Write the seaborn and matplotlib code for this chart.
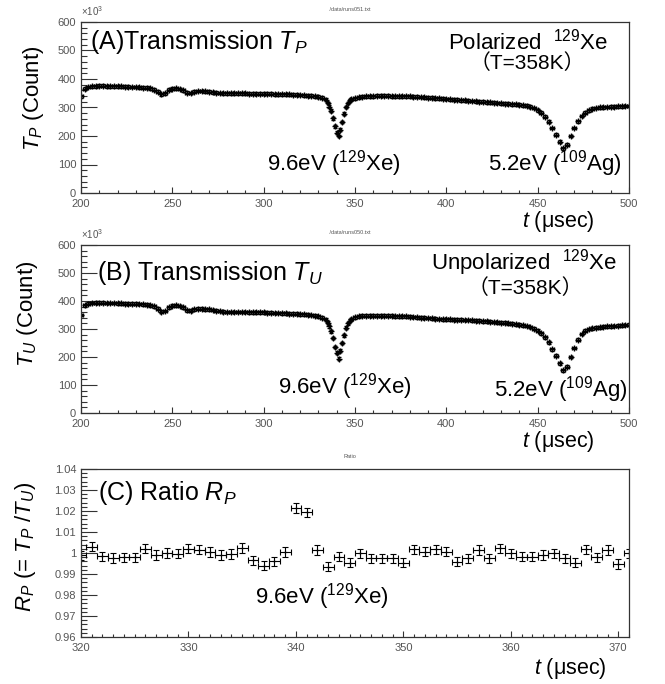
# -*- coding: utf-8 -*-
# Transmission T_P, T_U and ratio R_P vs time of flight

import numpy as np
import seaborn as sns
import matplotlib.pyplot as plt
from matplotlib.ticker import MultipleLocator, FuncFormatter

# %% Data (counts in units of 10^3)

# bin centres: 2 usec bins, 1 usec bins around the 9.6 eV dip
t_trans = np.r_[np.arange(200, 334, 2), np.arange(334, 348, 1), np.arange(348, 501, 2)]

T_P = [340, 366, 372, 374, 375, 376, 376, 375, 375, 375,
       374, 374, 373, 373, 372, 372, 371, 370, 369, 367,
       363, 356, 347, 350, 362, 366, 367, 365, 361, 352,
       351, 356, 358, 358, 357, 356, 354, 352, 351, 350,
       350, 350, 350, 350, 350, 350, 349, 349, 349, 348,
       348, 348, 348, 347, 347, 347, 346, 346, 345, 345,
       344, 343, 342, 341, 340, 338, 335,
       # 334 - 347
       328, 316, 303, 288, 262, 234, 212, 200, 222, 249, 278, 302, 316, 325,
       # 348 - 500
       329, 333, 336, 338, 339, 340, 340, 341, 341, 341,
       341, 340, 340, 340, 339, 339, 339, 338, 338, 337,
       336, 335, 334, 333, 332, 331, 330, 329, 328, 327,
       326, 325, 324, 323, 322, 321, 320, 319, 318, 317,
       316, 315, 314, 313, 312, 311, 310, 308, 306, 303,
       298, 290, 281, 268, 250, 228, 205, 180, 157, 170,
       200, 228, 252, 270, 282, 290, 295, 298, 300, 301,
       302, 303, 303, 304, 304, 305, 305]

T_U = [350, 384, 390, 393, 394, 394, 394, 393, 393, 393,
       392, 392, 391, 391, 390, 390, 389, 388, 387, 385,
       381, 372, 362, 364, 378, 383, 384, 382, 377, 367,
       365, 370, 372, 372, 371, 370, 368, 366, 364, 362,
       361, 361, 361, 361, 361, 361, 360, 360, 360, 359,
       359, 358, 358, 357, 357, 356, 356, 355, 355, 354,
       353, 352, 351, 350, 348, 346, 341,
       # 334 - 347
       333, 323, 310, 292, 268, 236, 215, 194, 222, 250, 278, 305, 320, 330,
       # 348 - 500
       336, 342, 345, 347, 348, 348, 348, 348, 348, 347,
       347, 347, 346, 346, 345, 345, 344, 343, 342, 341,
       340, 339, 338, 337, 336, 335, 334, 334, 333, 333,
       333, 332, 332, 331, 330, 329, 328, 327, 326, 325,
       324, 323, 322, 321, 319, 317, 315, 313, 311, 307,
       301, 294, 284, 270, 252, 228, 204, 178, 152, 165,
       200, 232, 262, 282, 294, 300, 303, 305, 306, 308,
       309, 310, 311, 312, 313, 314, 315]

t_ratio = np.arange(320, 372, 1)
R_P = [0.9989, 1.0030, 0.9984, 0.9976, 0.9980, 0.9980, 1.0020, 0.9990, 1.0000, 0.9997,
       1.0020, 1.0016, 1.0005, 0.9990, 0.9995, 1.0024, 0.9965, 0.9940, 0.9960, 1.0005,
       1.0214, 1.0194, 1.0014, 0.9935, 0.9983, 0.9954, 0.9998, 0.9975, 0.9975, 0.9975,
       0.9954, 1.0017, 1.0006, 1.0017, 1.0006, 0.9959, 0.9975, 1.0014, 0.9975, 1.0022,
       0.9998, 0.9983, 0.9983, 0.9990, 0.9998, 0.9975, 0.9954, 1.0017, 0.9980, 1.0014,
       0.9948, 0.9998]
R_err = 0.0022

# %% Style
sns.set_style("ticks")
plt.rcParams['font.family'] = ['Liberation Sans', 'Noto Sans CJK JP', 'DejaVu Sans']
plt.rcParams['mathtext.fontset'] = 'custom'
plt.rcParams['mathtext.rm'] = 'Liberation Sans'
plt.rcParams['mathtext.it'] = 'Liberation Sans:italic'
plt.rcParams['axes.edgecolor'] = '#333333'
plt.rcParams['axes.linewidth'] = 0.9
plt.rcParams['text.color'] = 'black'

W, H = 665, 684
fig = plt.figure(figsize=(W / 100, H / 100), dpi=100)


def add_axes(left, top, right, bottom):
    return fig.add_axes([left / W, 1 - bottom / H, (right - left) / W, (bottom - top) / H])


def style_axis(ax, xmaj, xmin, ymaj, ymin):
    ax.xaxis.set_major_locator(MultipleLocator(xmaj))
    ax.xaxis.set_minor_locator(MultipleLocator(xmin))
    ax.yaxis.set_major_locator(MultipleLocator(ymaj))
    ax.yaxis.set_minor_locator(MultipleLocator(ymin))
    ax.tick_params(axis='both', which='both', direction='in', top=False, right=False,
                   colors='#333333', labelcolor='#555555', labelsize=8, width=0.8)
    ax.tick_params(axis='y', which='major', length=11.5)
    ax.tick_params(axis='y', which='minor', length=4.3)
    ax.tick_params(axis='x', which='major', length=4.5, pad=4)
    ax.tick_params(axis='x', which='minor', length=2.2)
    for s in ax.spines.values():
        s.set_visible(True)
    ax.set_xlabel('')
    ax.set_ylabel('')


lbl = dict(fontsize=16, color='black')
xlbl = dict(fontsize=15.5, color='black')


def transmission(ax, vals, sub, tag, pol, fname, pos):
    bw = np.diff(np.r_[t_trans, 502]) / 2.0
    ax.errorbar(t_trans, vals, xerr=bw, yerr=5, fmt='none', ecolor='black',
                elinewidth=0.9, capsize=1.2)
    sns.scatterplot(x=t_trans, y=vals, marker='+', s=22, color='black',
                    linewidth=1.0, ax=ax)
    ax.set_xlim(200, 500)
    ax.set_ylim(0, 600)
    style_axis(ax, 50, 10, 100, 20)
    ax.text(pos['tag'][0], pos['tag'][1], tag + r' $T_{' + sub + '}$',
            transform=ax.transAxes, ha='left', va='center', fontsize=18)
    ax.text(pos['pol'][0], pos['pol'][1], pol + r'  $^{129}$Xe',
            transform=ax.transAxes, ha='right', va='center', **lbl)
    ax.text(pos['temp'][0], pos['temp'][1], '（T=358K）',
            transform=ax.transAxes, ha='center', va='center', fontsize=15, color='black')
    ax.text(pos['xe'][0], pos['xe'][1], r'9.6eV ($^{129}$Xe)',
            transform=ax.transAxes, ha='left', va='center', **lbl)
    ax.text(pos['ag'][0], pos['ag'][1], r'5.2eV ($^{109}$Ag)',
            transform=ax.transAxes, ha='right', va='center', **lbl)
    ax.text(0.0, 1.025, r'$\times$10$^{3}$', transform=ax.transAxes, ha='left',
            va='bottom', fontsize=7, color='#555555')
    ax.text(0.49, 1.06, fname, transform=ax.transAxes, ha='center', va='bottom',
            fontsize=4, color='#555555')
    ax.text(pos['xl'][0], pos['xl'][1], r'$t$ (μsec)', transform=ax.transAxes,
            ha='right', va='center', **xlbl)


# %% Panel A
axA = add_axes(81, 22, 629, 193)
transmission(axA, T_P, 'P', '(A)Transmission', 'Polarized', './data/runs051.txt',
             dict(tag=(0.016, 0.883), pol=(0.962, 0.883), temp=(0.814, 0.76),
                  xe=(0.339, 0.175), ag=(0.986, 0.175), xl=(0.937, -0.168)))
fig.text(33 / W, 1 - 98 / H, r'$T_P$ (Count)', rotation=90, ha='center', va='center', **lbl)

# %% Panel B
axB = add_axes(81, 245, 629, 413)
transmission(axB, T_U, 'U', '(B) Transmission', 'Unpolarized', './data/runs050.txt',
             dict(tag=(0.029, 0.833), pol=(0.978, 0.893), temp=(0.81, 0.744),
                  xe=(0.36, 0.16), ag=(0.997, 0.14), xl=(0.937, -0.172)))
fig.text(28 / W, 1 - 314 / H, r'$T_U$ (Count)', rotation=90, ha='center', va='center', **lbl)

# %% Panel C
axC = add_axes(81, 469, 629, 637)
axC.errorbar(t_ratio, R_P, xerr=0.5, yerr=R_err, fmt='none', ecolor='black',
             elinewidth=0.8, capsize=2.0, capthick=0.8)
sns.scatterplot(x=t_ratio, y=R_P, marker='+', s=10, color='black', linewidth=0.8, ax=axC)
axC.set_xlim(320, 371)
axC.set_ylim(0.96, 1.04)
style_axis(axC, 10, 1, 0.01, 0.002)
axC.yaxis.set_major_formatter(FuncFormatter(lambda v, _: f"{round(v, 2):g}"))
axC.text(0.031, 0.857, r'(C) Ratio $R_P$', transform=axC.transAxes, ha='left',
         va='center', fontsize=18)
axC.text(0.318, 0.238, r'9.6eV ($^{129}$Xe)', transform=axC.transAxes, ha='left',
         va='center', **lbl)
axC.text(0.49, 1.06, 'Ratio', transform=axC.transAxes, ha='center', va='bottom',
         fontsize=4, color='#555555')
axC.text(0.96, -0.19, r'$t$ (μsec)', transform=axC.transAxes, ha='right', va='center', **xlbl)
fig.text(26 / W, 1 - 547 / H, r'$R_P$ (= $T_P$ /$T_U$)', rotation=90, ha='center',
         va='center', **lbl)

fig.savefig('out.png', dpi=100)
